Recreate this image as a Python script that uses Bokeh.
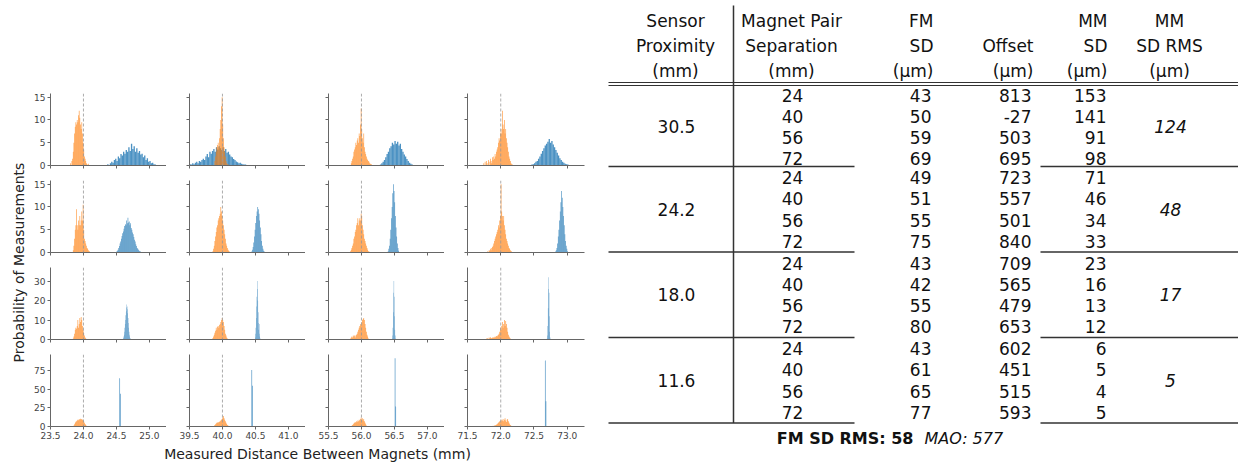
import math
from bokeh.plotting import figure
from bokeh.layouts import row, column
from bokeh.models import Range1d, FixedTicker, Span, ColumnDataSource, CustomLabelingPolicy
from bokeh.embed import file_html
from bokeh.resources import INLINE
from bokeh.core.properties import value

# ---------------- data ----------------
SEPARATIONS = [24, 40, 56, 72]
PROXIMITIES = ["30.5", "24.2", "18.0", "11.6"]
ROW_YMAX = [15.8, 15.8, 37, 97]
ROW_YTICKS = [[0, 5, 10, 15], [0, 5, 10, 15], [0, 10, 20, 30], [0, 25, 50, 75]]
X_TICK_LABELS = [["23.5", "24.0", "24.5", "25.0"],
                 ["39.5", "40.0", "40.5", "41.0"],
                 ["55.5", "56.0", "56.5", "57.0"],
                 ["71.5", "72.0", "72.5", "73.0"]]
X_TICK_VALUES = [[23.5, 24.0, 24.5, 25.0],
                 [39.5, 40.0, 40.5, 41.0],
                 [55.5, 56.0, 56.5, 57.0],
                 [71.5, 72.0, 72.5, 73.0]]

# orange (FM) histograms: first bin edge (mm), bin width (mm), heights
FM_START = [[23.80, 39.88, 55.84, 71.74],
            [23.84, 39.85, 55.83, 71.80],
            [23.84, 39.84, 55.83, 71.78],
            [23.84, 39.86, 55.84, 71.86]]
FM_WIDTH = [[0.01, 0.01, 0.01, 0.01]] * 4
FM_30_24 = [0.5, 0, 1, 1.5, 3, 5, 7, 8.5, 9.5, 9, 10, 9.5, 11, 12, 10.5, 9, 8, 9.5, 7, 5, 3.5, 2, 1.5, 1, 0.5, 0.3, 0, 0.4]
FM_30_40 = [1, 2, 3, 4, 4.5, 5, 4, 6, 8, 10, 13, 15, 9, 6, 4, 3, 2, 1, 0.5, 0.3, 0, 0.2]
FM_30_56 = [0.5, 1, 1.5, 2, 3, 3.5, 4, 5, 4.5, 5.5, 6, 5, 7, 6.5, 9, 12.5, 8, 6, 5, 7, 4, 3, 2.5, 2, 1.5, 1.2, 1, 0.8, 0.5, 0.4, 0.3, 0.2]
FM_30_72 = [0.5, 0, 0.8, 0, 1, 0.5, 0, 1.2, 0.8, 0, 1.5, 1, 0.5, 1.8, 1.2, 2, 1.5, 2.5, 2, 3, 3.5, 4, 5, 6, 5.5, 7, 8, 7, 12, 9, 8, 10, 7, 8, 6, 5, 4, 3, 2, 1.5, 1, 0.5, 0.3, 0.2]
FM_24_24 = [0.5, 1.5, 3, 5, 6, 9.5, 6, 5, 7, 6, 8, 6, 7, 9, 7, 10.5, 5, 3, 2.5, 2, 1.5, 1, 0.8, 0.5, 0.3, 0.2, 0.1]
FM_24_40 = [0.3, 0.8, 1.5, 2.5, 3.5, 4.5, 5.5, 6, 7, 7.5, 8, 8.5, 10, 9, 8, 7, 6, 5, 4, 3, 2, 1.5, 1, 0.6, 0.4, 0.2, 0.1]
FM_24_56 = [0.3, 0.6, 1, 1.5, 2, 3, 3.5, 4.5, 5, 6, 6.5, 7.5, 6, 7, 7.5, 7, 8.5, 8, 6, 5, 4, 3, 2.5, 2, 1.5, 1, 0.6, 0.3, 0.2]
FM_24_72 = [0.3, 0, 0.5, 0.4, 0.8, 0.5, 1, 1.2, 1.5, 2, 2.5, 3, 3.5, 4, 4.5, 5, 6, 5.5, 7, 8, 15, 9, 8, 7, 8, 6, 5, 4, 3, 2.5, 2, 1.5, 1, 0.8, 0.5, 0.3, 0.2, 0.1, 0.1, 0]
FM_18_24 = [0.5, 1.5, 3, 5, 6, 5.5, 7, 10, 6, 8, 11, 9, 11.5, 10, 7, 5, 3.5, 2, 1, 0.6, 0.3, 0.2, 0.1]
FM_18_40 = [0.3, 0.8, 1.5, 2.5, 3.5, 4.5, 6, 5, 6.5, 7, 6, 7.5, 8, 9, 10, 11, 10, 9, 7, 5, 3, 2, 1, 0.5, 0.3, 0.1]
FM_18_56 = [0.5, 1, 1.5, 1, 2, 1.5, 2, 1, 2, 2.5, 3, 4, 5, 6, 7, 8, 7.5, 9, 10, 10.5, 11, 10, 8, 6, 4, 2.5, 1.5, 0.5]
FM_18_72 = [0.5, 0, 0.8, 0.3, 1, 0.5, 1.2, 0.8, 0.6, 1, 0.8, 1.2, 1, 1.5, 1.2, 1.8, 1.5, 2, 2.5, 3, 4, 6, 5, 7, 9, 6, 8, 10, 7, 9.5, 8, 6, 4, 2.5, 1.5, 1, 0.5, 0.3, 0.1, 0]
FM_11_24 = [0.5, 1.5, 3, 5, 6.5, 7, 8, 9, 8.5, 10, 9, 10.5, 9.5, 10, 9, 8, 7, 5, 3.5, 2, 1, 0.3]
FM_11_40 = [0.5, 1, 2, 3, 4, 5, 5.5, 5, 6, 6.5, 7, 8, 9, 10, 12, 14, 11, 9, 7, 5, 3.5, 2, 1.2, 0.6, 0.3, 0.1]
FM_11_56 = [0.5, 1, 2, 3, 4, 5, 6, 5, 7, 6, 8, 7, 9, 8, 10, 12, 9, 11, 8, 10, 7, 5, 3, 1.5, 0.6, 0.2]
FM_11_72 = [0.5, 0.3, 1, 0.8, 1.5, 1, 2, 2.5, 3, 4, 5, 6, 7, 8, 7, 9, 8, 10, 7, 9, 11, 8, 6, 9, 10, 7, 5, 3, 2, 1, 0.5, 0.2]

# blue (MM) histograms
MM_START = [[24.36, 39.50, 56.28, 72.46],
            [24.50, 40.44, 56.40, 72.82],
            [24.60, 40.49, 56.465, 72.695],
            [24.545, 40.44, 56.505, 72.665]]
MM_WIDTH = [[0.02, 0.02, 0.02, 0.02],
            [0.01, 0.01, 0.01, 0.01],
            [0.005, 0.005, 0.005, 0.005],
            [0.01, 0.01, 0.01, 0.01]]
MM_30_24 = [0.3, 0, 0.5, 0.8, 0.6, 1.2, 1.5, 1.0, 2.0, 1.6, 2.5, 2.2, 3.0, 2.6, 3.4, 3.0, 4.0, 3.2, 4.8, 3.6, 4.2, 3.0, 3.8, 2.8, 3.2, 2.4, 2.6, 1.8, 2.2, 1.2, 1.6, 0.8, 1.0, 0.5, 0.6, 0.3, 0.2, 0.1, 0, 0]
MM_30_40 = [0.3, 0.2, 0.5, 0.3, 0.6, 0.8, 0.5, 1.0, 0.8, 1.2, 1.5, 1.2, 2.0, 2.5, 1.8, 3.0, 2.6, 3.2, 3.6, 3.0, 4.0, 3.5, 4.2, 3.8, 3.4, 4.0, 3.2, 3.6, 2.8, 3.0, 2.4, 2.0, 1.8, 1.4, 1.2, 0.9, 0.7, 0.5, 0.6, 0.4, 0.3, 0.2, 0.2, 0.1, 0.1]
MM_30_56 = [0.2, 0.5, 0.8, 1.2, 1.8, 2.5, 3.0, 3.8, 4.2, 5.0, 4.6, 5.4, 4.8, 5.2, 4.4, 4.8, 3.6, 3.0, 2.4, 2.0, 1.4, 1.0, 0.6, 0.4, 0.2, 0.1]
MM_30_72 = [0.2, 0.3, 0.5, 0.8, 1.0, 1.5, 2.0, 2.6, 3.2, 3.8, 4.4, 4.8, 5.2, 5.8, 5.0, 5.4, 4.6, 4.0, 3.4, 2.8, 2.2, 1.6, 1.2, 0.8, 0.6, 0.4, 0.3, 0.2, 0.1, 0.1]
MM_24_24 = [0.2, 0.4, 0.6, 1.0, 1.4, 2.0, 2.4, 3.0, 3.6, 4.2, 4.6, 5.2, 5.8, 6.2, 6.0, 7.0, 6.4, 7.6, 6.6, 6.8, 6.0, 6.4, 5.4, 5.0, 4.4, 4.0, 3.4, 2.8, 2.4, 1.8, 1.4, 1.0, 0.8, 0.6, 0.4, 0.3, 0.2, 0.1, 0.1, 0.1]
MM_24_40 = [0.2, 0.6, 1.2, 2.2, 3.5, 5, 6.5, 8, 9, 10, 9.5, 8.5, 7, 5.5, 4, 2.5, 1.5, 0.8, 0.4, 0.2]
MM_24_56 = [0.3, 0.8, 1.5, 3, 5, 7.5, 10, 13, 15, 13.5, 11, 8, 5.5, 3.5, 2, 1, 0.4, 0.1]
MM_24_72 = [0.2, 0.5, 1, 2, 3.5, 5, 7, 9, 11, 13.5, 12, 10, 8, 6, 4, 2.5, 1.5, 0.8, 0.3, 0.1]
MM_18_24 = [0.3, 0.8, 1.5, 2.5, 4, 6, 8, 10, 12.5, 14.5, 16.5, 18, 17, 15.5, 13.5, 11, 8.5, 6, 4, 2.5, 1.5, 0.8, 0.4, 0.2, 0.1, 0]
MM_18_40 = [0.3, 1, 3, 6, 11, 17, 22, 30, 26, 20, 14, 8.5, 5, 8, 3, 1.5, 0.5, 0.2]
MM_18_56 = [0.5, 2, 6, 14, 24, 30, 22, 12, 5, 2, 0.5, 0.2]
MM_18_72 = [0.5, 2, 7, 16, 26, 32, 24, 12, 4, 1, 0.3]
MM_11_24 = [65, 44]
MM_11_40 = [76, 55]
MM_11_56 = [92, 27]
MM_11_72 = [89, 34]

FM_HEIGHTS = [[FM_30_24, FM_30_40, FM_30_56, FM_30_72],
              [FM_24_24, FM_24_40, FM_24_56, FM_24_72],
              [FM_18_24, FM_18_40, FM_18_56, FM_18_72],
              [FM_11_24, FM_11_40, FM_11_56, FM_11_72]]
MM_HEIGHTS = [[MM_30_24, MM_30_40, MM_30_56, MM_30_72],
              [MM_24_24, MM_24_40, MM_24_56, MM_24_72],
              [MM_18_24, MM_18_40, MM_18_56, MM_18_72],
              [MM_11_24, MM_11_40, MM_11_56, MM_11_72]]

# table values
TABLE_SEPARATION = [24, 40, 56, 72]
TABLE_FM_SD = [[43, 50, 59, 69], [49, 51, 55, 75], [43, 42, 55, 80], [43, 61, 65, 77]]
TABLE_OFFSET = [[813, -27, 503, 695], [723, 557, 501, 840], [709, 565, 479, 653], [602, 451, 515, 593]]
TABLE_MM_SD = [[153, 141, 91, 98], [71, 46, 34, 33], [23, 16, 13, 12], [6, 5, 4, 5]]
TABLE_MM_SD_RMS = [124, 48, 17, 5]
FM_SD_RMS = 58
MAO = 577

# ---------------- style ----------------
ORANGE = "#ff7f0e"
BLUE = "#1f77b4"
AX_COL = "#666666"
TICK_TXT = "#444444"
FONT = "DejaVu Sans"

COL_W = [136, 139, 139, 161]
COL_BL = [20, 23, 23, 23]
COL_BR = [0, 0, 0, 21]
ROW_H = [179, 87, 87, 92]
ROW_BT = [93, 1, 1, 1]
ROW_BB = [14, 14, 14, 19]
XSPAN = 1.76


def quads(start, width, heights):
    left = [start + i * width for i in range(len(heights))]
    right = [l + width for l in left]
    return ColumnDataSource(dict(left=left, right=right, top=heights, bottom=[0] * len(heights)))


def panel(r, c):
    x0 = X_TICK_VALUES[c][0]
    p = figure(width=COL_W[c], height=ROW_H[r],
               x_range=Range1d(x0, x0 + XSPAN), y_range=Range1d(0, ROW_YMAX[r]),
               output_backend="svg", toolbar_location=None,
               min_border_left=COL_BL[c], min_border_right=COL_BR[c],
               min_border_top=ROW_BT[r], min_border_bottom=ROW_BB[r])
    p.outline_line_color = None
    p.grid.visible = False
    p.background_fill_color = None
    p.border_fill_color = None
    p.quad(left="left", right="right", top="top", bottom="bottom",
           source=quads(MM_START[r][c], MM_WIDTH[r][c], MM_HEIGHTS[r][c]),
           fill_color=BLUE, fill_alpha=0.8, line_color=None)
    p.quad(left="left", right="right", top="top", bottom="bottom",
           source=quads(FM_START[r][c], FM_WIDTH[r][c], FM_HEIGHTS[r][c]),
           fill_color=ORANGE, fill_alpha=0.8, line_color=None)
    p.add_layout(Span(location=SEPARATIONS[c], dimension="height",
                      line_color="#999999", line_dash="3 2", line_width=1, line_alpha=0.8))
    for ax in (p.xaxis[0], p.yaxis[0]):
        ax.axis_line_color = AX_COL
        ax.major_tick_line_color = AX_COL
        ax.minor_tick_line_color = None
        ax.major_tick_out = 3
        ax.major_tick_in = 0
        ax.major_label_standoff = 2
        ax.major_label_text_color = TICK_TXT
        ax.major_label_text_font = FONT
        ax.major_label_text_font_size = "9px"
    p.xaxis.ticker = FixedTicker(ticks=X_TICK_VALUES[c])
    p.xaxis.major_label_overrides = {v: l for v, l in zip(X_TICK_VALUES[c], X_TICK_LABELS[c])}
    p.yaxis.ticker = FixedTicker(ticks=ROW_YTICKS[r])
    if r != 3:
        p.xaxis.major_label_policy = CustomLabelingPolicy(code="return []")
        p.xaxis.major_label_text_font_size = "2px"
    if c != 0:
        p.yaxis.major_label_policy = CustomLabelingPolicy(code="return []")
        p.yaxis.major_label_text_font_size = "2px"
    return p


grid_rows = [row(*[panel(r, c) for c in range(4)]) for r in range(4)]

# shared axis titles
ylab = figure(width=30, height=465, x_range=Range1d(0, 30), y_range=Range1d(465, 0),
              output_backend="svg", toolbar_location=None,
              min_border_left=0, min_border_right=0, min_border_top=0, min_border_bottom=0)
ylab.axis.visible = False
ylab.grid.visible = False
ylab.outline_line_color = None
ylab.text(x=[18], y=[262], text=["Probability of Measurements"], angle=math.pi / 2,
          text_align="center", text_baseline="middle", text_font=value(FONT),
          text_font_size="14px", text_color="#222222")

xlab = figure(width=575, height=20, x_range=Range1d(30, 605), y_range=Range1d(465, 445),
              output_backend="svg", toolbar_location=None,
              min_border_left=0, min_border_right=0, min_border_top=0, min_border_bottom=0)
xlab.axis.visible = False
xlab.grid.visible = False
xlab.outline_line_color = None
xlab.text(x=[317], y=[453], text=["Measured Distance Between Magnets (mm)"],
          text_align="center", text_baseline="middle", text_font=value(FONT),
          text_font_size="14px", text_color="#222222")

# ---------------- table ----------------
t = figure(width=633, height=465, x_range=Range1d(605, 1238), y_range=Range1d(465, 0),
           output_backend="svg", toolbar_location=None,
           min_border_left=0, min_border_right=0, min_border_top=0, min_border_bottom=0)
t.axis.visible = False
t.grid.visible = False
t.outline_line_color = None

TF = value(FONT)
TS = "17px"
HEAD_Y = [20, 45, 70]
headers = [
    (["Sensor", "Proximity", "(mm)"], 675, "center"),
    (["Magnet Pair", "Separation", "(mm)"], 791, "center"),
    (["FM", "SD", "(µm)"], 933, "right"),
    (["", "Offset", "(µm)"], 1033, "right"),
    (["MM", "SD", "(µm)"], 1107, "right"),
    (["MM", "SD RMS", "(µm)"], 1169, "center"),
]
for lines, hx, al in headers:
    t.text(x=[hx] * 3, y=HEAD_Y, text=lines,
           text_align=al, text_baseline="middle",
           text_font=TF, text_font_size=TS, text_color="#111111")

LINE_Y = [166, 251.5, 337, 422.5]
HEAD_LINE = 83.5
ROW_PITCH = 21.3
tops = [HEAD_LINE] + LINE_Y[:3]
for g in range(4):
    ys = [tops[g] + 11 + ROW_PITCH * i for i in range(4)]
    gy = tops[g] + 11 + ROW_PITCH * 1.5
    t.text(x=[676], y=[gy], text=[PROXIMITIES[g]], text_align="center", text_baseline="middle",
           text_font=TF, text_font_size=TS, text_color="#111111")
    t.text(x=[1170], y=[gy], text=[str(TABLE_MM_SD_RMS[g])], text_align="center", text_baseline="middle",
           text_font=TF, text_font_size=TS, text_font_style="italic", text_color="#111111")
    t.text(x=[792] * 4, y=ys, text=[str(v) for v in TABLE_SEPARATION], text_align="center",
           text_baseline="middle", text_font=TF, text_font_size=TS, text_color="#111111")
    t.text(x=[931] * 4, y=ys, text=[str(v) for v in TABLE_FM_SD[g]], text_align="right",
           text_baseline="middle", text_font=TF, text_font_size=TS, text_color="#111111")
    t.text(x=[1031] * 4, y=ys, text=[str(v) for v in TABLE_OFFSET[g]], text_align="right",
           text_baseline="middle", text_font=TF, text_font_size=TS, text_color="#111111")
    t.text(x=[1106] * 4, y=ys, text=[str(v) for v in TABLE_MM_SD[g]], text_align="right",
           text_baseline="middle", text_font=TF, text_font_size=TS, text_color="#111111")

LC = "#333333"
t.segment(x0=[733], y0=[5], x1=[733], y1=[LINE_Y[3]], line_color=LC, line_width=1.5)
t.segment(x0=[608, 608], y0=[HEAD_LINE - 1.5, HEAD_LINE + 1.5], x1=[1238, 1238],
          y1=[HEAD_LINE - 1.5, HEAD_LINE + 1.5], line_color=LC, line_width=1.2)
t.segment(x0=[608] * 4 + [1040] * 4, y0=LINE_Y * 2, x1=[854] * 4 + [1238] * 4, y1=LINE_Y * 2,
          line_color=LC, line_width=1.5)

t.text(x=[913], y=[438], text=[f"FM SD RMS: {FM_SD_RMS}"], text_align="right", text_baseline="middle",
       text_font=TF, text_font_size="16px", text_font_style="bold", text_color="#111111")
t.text(x=[924], y=[438], text=[f"MAO: {MAO}"], text_align="left", text_baseline="middle",
       text_font=TF, text_font_size="16px", text_font_style="italic", text_color="#111111")

left = row(ylab, column(*grid_rows, xlab))
page = row(left, t)

open("out.html", "w").write(file_html(page, INLINE))
